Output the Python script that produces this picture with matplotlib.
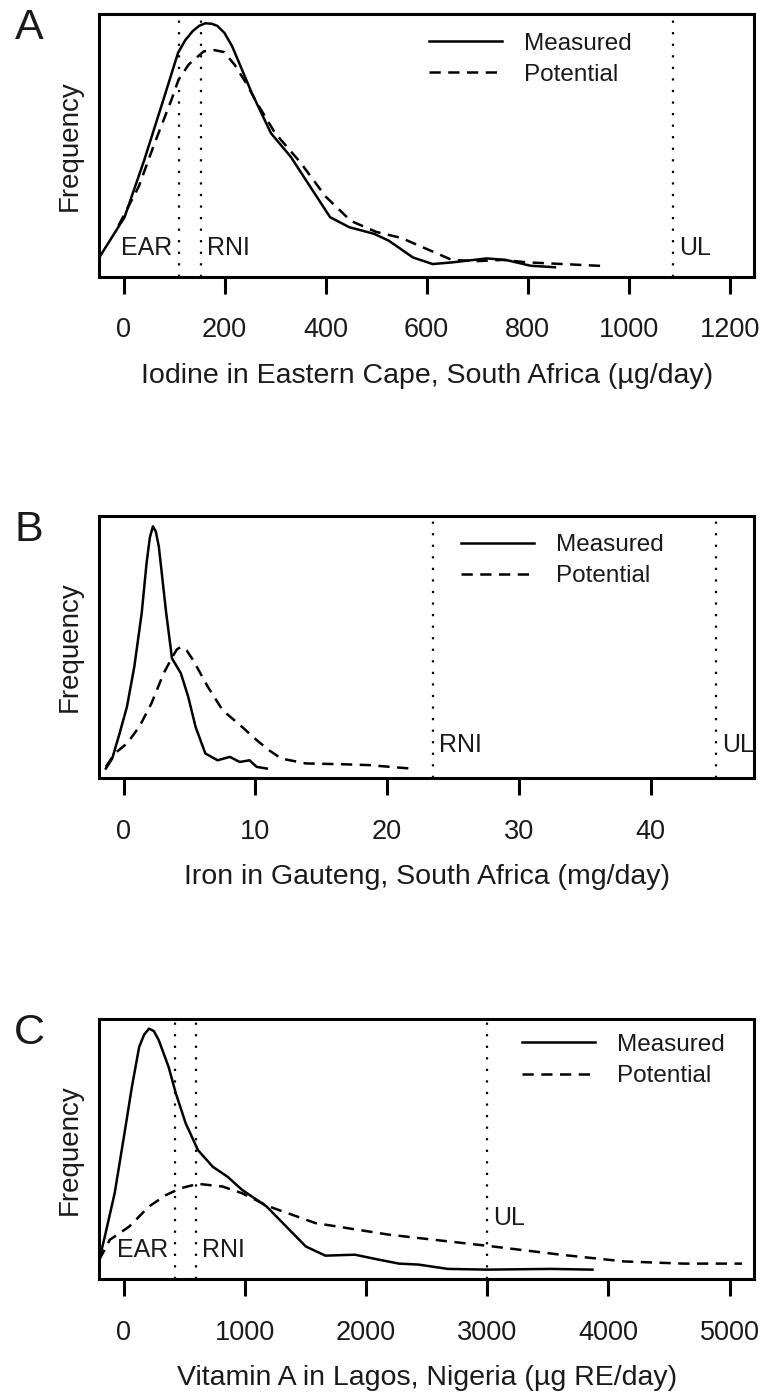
import matplotlib
matplotlib.use("Agg")
import matplotlib.pyplot as plt

plt.rcParams['font.family'] = ['Liberation Sans', 'DejaVu Sans']

# ---- panel A: iodine, Eastern Cape (ug/day) ----
iod_meas_x = [-48, 2, 41, 79, 108, 122, 137, 150, 162, 175, 186, 200, 215, 254, 292, 331,
              370, 409, 447, 496, 525, 573, 612, 651, 719, 757, 806, 854]
iod_meas_y = [0.040, 0.205, 0.439, 0.687, 0.879, 0.93, 0.968, 0.99, 1.0, 0.998, 0.989,
              0.96, 0.906, 0.714, 0.549, 0.453, 0.329, 0.205, 0.164, 0.137, 0.109, 0.040,
              0.013, 0.020, 0.036, 0.030, 0.006, 0.0]
iod_pot_x = [-10, 30, 60, 95, 109, 129, 159, 180, 199, 220, 242, 264, 300, 350, 400, 450,
             500, 550, 600, 650, 700, 750, 800, 850, 950]
iod_pot_y = [0.17, 0.33, 0.50, 0.687, 0.769, 0.831, 0.885, 0.89, 0.882, 0.83, 0.757, 0.674,
             0.55, 0.43, 0.29, 0.19, 0.145, 0.12, 0.075, 0.03, 0.025, 0.03, 0.02, 0.015,
             0.005]
iod_refs = {'EAR': 110, 'RNI': 154, 'UL': 1088}

# ---- panel B: iron, Gauteng (mg/day) ----
fe_meas_x = [-1.34, -0.86, -0.30, 0.26, 0.82, 1.38, 1.75, 2.0, 2.23, 2.45, 2.68, 3.24,
             3.68, 4.35, 4.91, 5.47, 6.21, 7.14, 8.07, 8.82, 9.56, 10.1, 10.87]
fe_meas_y = [0.0, 0.041, 0.144, 0.254, 0.419, 0.639, 0.845, 0.95, 0.996, 0.975, 0.913,
             0.639, 0.453, 0.392, 0.295, 0.171, 0.062, 0.034, 0.048, 0.027, 0.034, 0.007,
             0.0]
fe_pot_x = [-1.34, -0.67, 0.26, 1.19, 2.12, 3.05, 3.72, 4.05, 4.35, 4.8, 5.28, 6.4, 7.52,
            9.0, 10.1, 11.05, 11.98, 13.84, 16.45, 18.7, 20.2, 21.8]
fe_pot_y = [0.007, 0.062, 0.103, 0.171, 0.268, 0.392, 0.46, 0.49, 0.50, 0.485, 0.446,
            0.336, 0.240, 0.171, 0.117, 0.075, 0.041, 0.021, 0.018, 0.014, 0.007, 0.0]
fe_refs = {'RNI': 23.5, 'UL': 45}

# ---- panel C: vitamin A, Lagos (ug RE/day) ----
va_meas_x = [-200, -154, -73, 8, 69, 129, 170, 210, 250, 291, 372, 432, 513, 614, 736,
             857, 978, 1180, 1342, 1504, 1665, 1908, 2110, 2272, 2433, 2676, 2999, 3525,
             3868]
va_meas_y = [0.041, 0.138, 0.317, 0.566, 0.758, 0.924, 0.975, 1.0, 0.99, 0.952, 0.841,
             0.731, 0.607, 0.496, 0.427, 0.386, 0.331, 0.262, 0.179, 0.096, 0.058, 0.062,
             0.041, 0.025, 0.021, 0.003, 0.0, 0.003, 0.0]
va_pot_x = [-200, -113, 48, 210, 352, 473, 614, 816, 978, 1200, 1584, 2191, 2999, 3605,
            4131, 4616, 5101]
va_pot_y = [0.041, 0.124, 0.179, 0.262, 0.310, 0.338, 0.356, 0.345, 0.317, 0.262, 0.193,
            0.145, 0.099, 0.062, 0.034, 0.025, 0.025]
va_refs = {'EAR': 425, 'RNI': 600, 'UL': 3000}

TXT = '#1a1a1a'

fig = plt.figure(figsize=(7.63, 13.94), dpi=100)


def panel(rect, letter, mx, my, px, py, refs, label_y, xmax, ticks, xlabel, leg_xy):
    ax = fig.add_axes(rect)
    ax.plot(mx, my, color='black', lw=1.8, label='Measured', solid_joinstyle='round')
    ax.plot(px, py, color='black', lw=1.8, ls=(0, (4.5, 3)), label='Potential')
    for name, v in refs.items():
        ax.axvline(v, color='black', lw=1.6, ls=(0, (1, 4.2)))
        ly = label_y[name] if isinstance(label_y, dict) else label_y
        if name == 'EAR':
            ax.annotate(name, (v, ly), xytext=(-5, 0), textcoords='offset points',
                        ha='right', va='center', fontsize=18, color=TXT)
        else:
            ax.annotate(name, (v, ly), xytext=(4, 0), textcoords='offset points',
                        ha='left', va='center', fontsize=18, color=TXT)
    pad = 0.04 * xmax
    ax.set_xlim(-pad, xmax + pad)
    ax.set_ylim(-0.04, 1.04)
    ax.set_xticks(ticks)
    ax.set_yticks([])
    ax.tick_params(axis='x', length=12, width=2.2, pad=17, labelsize=19.5, labelcolor=TXT)
    for s in ax.spines.values():
        s.set_linewidth(2.2)
    ax.set_xlabel(xlabel, fontsize=20.5, color=TXT, labelpad=14)
    ax.set_ylabel('Frequency', fontsize=20, color=TXT, labelpad=12)
    ax.legend(loc='upper left', bbox_to_anchor=leg_xy, frameon=False, fontsize=17.5,
              handlelength=3.0, handletextpad=0.9, labelspacing=0.38, borderpad=0,
              borderaxespad=0, labelcolor=TXT)
    ax.text(-0.107, 0.945, letter, transform=ax.transAxes, fontsize=31,
            ha='center', va='center', color=TXT)
    return ax


panel([0.1301, 0.8013, 0.858, 0.189], 'A', iod_meas_x, iod_meas_y, iod_pot_x, iod_pot_y,
      iod_refs, 0.08, 1200, [0, 200, 400, 600, 800, 1000, 1200],
      'Iodine in Eastern Cape, South Africa (\u00b5g/day)', (0.504, 0.928))

panel([0.1301, 0.4417, 0.858, 0.1884], 'B', fe_meas_x, fe_meas_y, fe_pot_x, fe_pot_y,
      fe_refs, 0.096, 46, [0, 10, 20, 30, 40],
      'Iron in Gauteng, South Africa (mg/day)', (0.553, 0.93))

panel([0.1301, 0.0823, 0.858, 0.1867], 'C', va_meas_x, va_meas_y, va_pot_x, va_pot_y,
      va_refs, {'EAR': 0.083, 'RNI': 0.083, 'UL': 0.215}, 5000,
      [0, 1000, 2000, 3000, 4000, 5000],
      'Vitamin A in Lagos, Nigeria (\u00b5g RE/day)', (0.646, 0.943))

fig.savefig('out.png', dpi=100)
